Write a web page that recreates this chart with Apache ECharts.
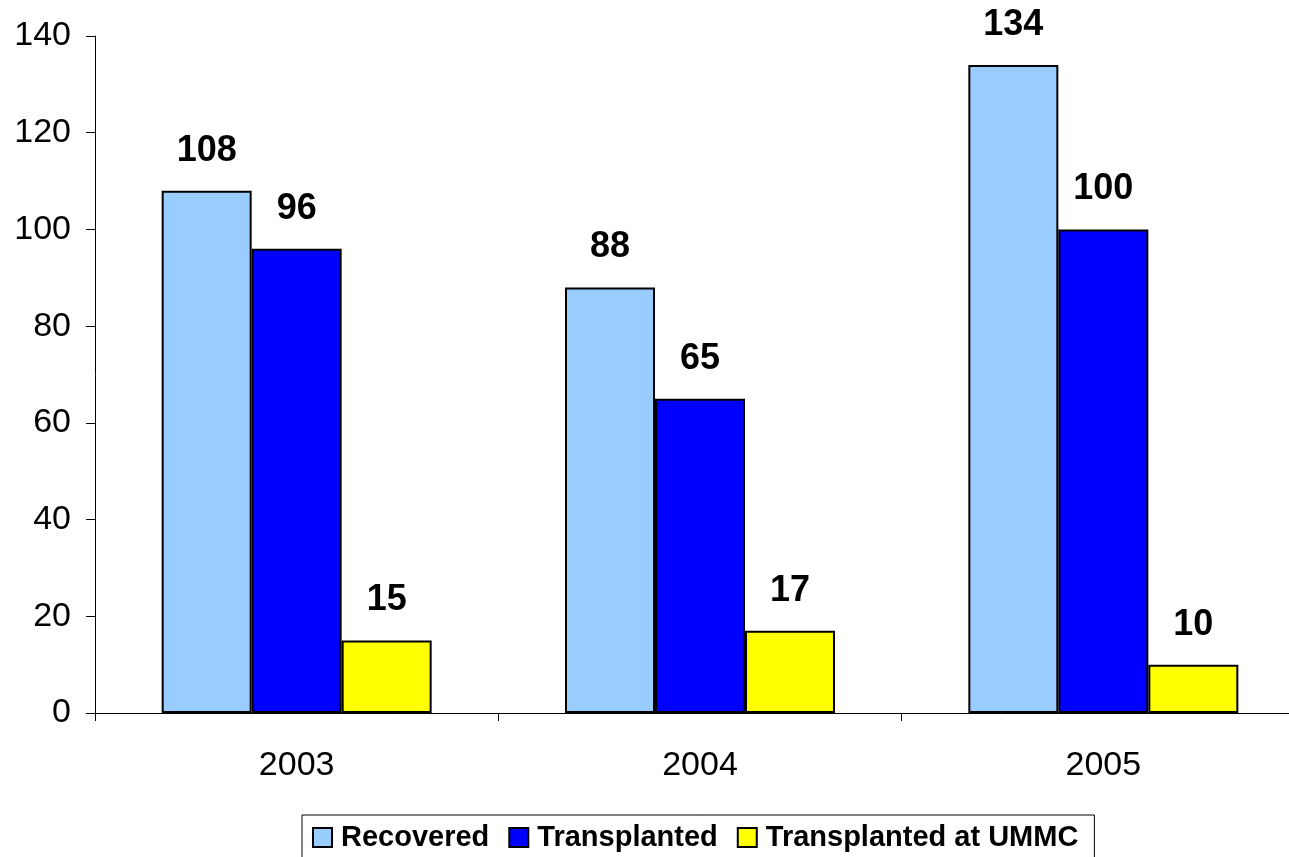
<!DOCTYPE html>
<html>
<head>
<meta charset="utf-8">
<script src="https://cdn.jsdelivr.net/npm/echarts@6/dist/echarts.min.js"></script>
<style>
  html, body { margin: 0; padding: 0; background: #fff; overflow: hidden; }
  /* the plot runs a little past the right edge of the window, as in the original */
  #chart { width: 1305px; height: 857px; }
</style>
</head>
<body>
<div id="chart"></div>
<script>
  var years = ['2003', '2004', '2005'];
  var recovered = [108, 88, 134];
  var transplanted = [96, 65, 100];
  var transplantedUmmc = [15, 17, 10];

  var labelStyle = {
    show: true,
    position: 'top',
    distance: 22,
    color: '#000',
    fontFamily: 'Liberation Sans, Arial, sans-serif',
    fontWeight: 'bold',
    fontSize: 36
  };

  function makeSeries(name, data, color) {
    return {
      name: name,
      type: 'bar',
      data: data,
      barWidth: 90,
      barGap: '0%',
      itemStyle: { color: color, borderColor: '#000', borderWidth: 2 },
      label: labelStyle
    };
  }

  var chart = echarts.init(document.getElementById('chart'));
  chart.setOption({
    animation: false,
    textStyle: { fontFamily: 'Liberation Sans, Arial, sans-serif' },
    grid: { left: 95, right: 0, top: 36, bottom: 144 },
    legend: {
      top: 815,
      left: 302,
      padding: [8, 16, 30, 10],
      borderColor: '#000',
      borderWidth: 1,
      itemWidth: 19,
      itemHeight: 19,
      itemGap: 19,
      icon: 'rect',
      itemStyle: { borderColor: '#000', borderWidth: 2 },
      textStyle: { fontSize: 29, fontWeight: 'bold', color: '#000', padding: [0, 0, 0, 4] },
      data: ['Recovered', 'Transplanted', 'Transplanted at UMMC']
    },
    xAxis: {
      type: 'category',
      data: years,
      axisLine: { lineStyle: { color: '#000', width: 1 } },
      axisTick: { show: true, length: 8, lineStyle: { color: '#000' } },
      axisLabel: { color: '#000', fontSize: 34, margin: 36 }
    },
    yAxis: {
      type: 'value',
      min: 0,
      max: 140,
      interval: 20,
      splitLine: { show: false },
      axisLine: { show: true, lineStyle: { color: '#000', width: 1 } },
      axisTick: { show: true, length: 9, lineStyle: { color: '#000' } },
      axisLabel: { color: '#000', fontSize: 34, margin: 24 }
    },
    series: [
      makeSeries('Recovered', recovered, '#99CCFF'),
      makeSeries('Transplanted', transplanted, '#0000FF'),
      makeSeries('Transplanted at UMMC', transplantedUmmc, '#FFFF00')
    ]
  });
</script>
</body>
</html>
